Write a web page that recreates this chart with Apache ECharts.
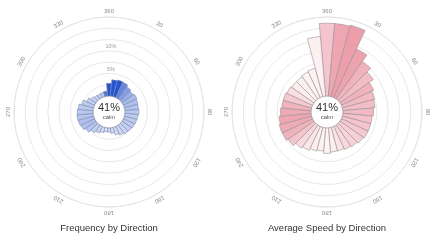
<!DOCTYPE html>
<html>
<head>
<meta charset="utf-8">
<style>
html, body { margin: 0; padding: 0; background: #fff; }
#main { width: 432px; height: 241px; }
</style>
</head>
<body>
<div id="main"></div>
<script src="https://cdn.jsdelivr.net/npm/echarts@6/dist/echarts.min.js"></script>
<script>
// wind directions, every 10 degrees
var directions = ['0', '10', '20', '30', '40', '50', '60', '70', '80', '90', '100', '110',
    '120', '130', '140', '150', '160', '170', '180', '190', '200', '210', '220', '230',
    '240', '250', '260', '270', '280', '290', '300', '310', '320', '330', '340', '350'];

// frequency by direction (%)
var frequency = [2.8, 3.6, 3.8, 3.7, 3.3, 3.0, 3.3, 3.1, 3.0, 3.1, 2.9, 2.8,
    2.7, 2.5, 2.4, 2.1, 1.7, 1.2, 0.9, 0.9, 1.2, 1.6, 2.1, 2.8,
    3.3, 3.5, 3.6, 3.5, 3.3, 2.7, 1.9, 1.3, 1.0, 0.9, 1.0, 1.1];

// average speed by direction
var speed = [12.9, 12.9, 13.1, 9.5, 8.1, 7.2, 6.3, 5.9, 5.7, 5.4, 5.2, 5.2,
    5.2, 5.0, 4.7, 4.5, 4.3, 4.3, 4.5, 4.1, 4.3, 4.7, 5.0, 5.6,
    5.9, 5.9, 5.7, 5.4, 5.2, 5.2, 5.0, 4.8, 4.8, 5.0, 5.2, 10.6];

// compass labels round the outside
var dirTicks = ['0', '30', '60', '90', '120', '150', '180', '210', '240', '270', '300', '330'];
var dirTickLabels = ['360', '30', '60', '90', '120', '150', '180', '210', '240', '270', '300', '330'];

// ring labels on the frequency chart
var freqRings = [5, 10];
var freqRingLabels = ['5%', '10%'];

var calmText = '41%';

var blueScale = ['#e2e9fa', '#9fb5ea', '#2352d0'];
var pinkScale = ['#fdf3f4', '#f6cfd5', '#ec9fab'];

function scaleColor(v, arr, colors, gamma) {
    var mn = Math.min.apply(null, arr);
    var mx = Math.max.apply(null, arr);
    return echarts.color.lerp(Math.pow((v - mn) / (mx - mn), gamma), colors);
}

function angleAxisOf(idx) {
    return {
        polarIndex: idx,
        type: 'category',
        data: directions,
        startAngle: 95,
        clockwise: true,
        axisLine: { lineStyle: { color: '#e4e4e4', width: 1 } },
        axisTick: { show: false },
        axisLabel: { show: false },
        splitLine: { show: false }
    };
}

function radiusAxisOf(idx, max, interval) {
    return {
        polarIndex: idx,
        type: 'value',
        min: 0,
        max: max,
        interval: interval,
        axisLine: { show: false },
        axisTick: { show: false },
        axisLabel: { show: false },
        splitLine: { lineStyle: { color: '#e8e8e8', width: 1 } }
    };
}

// compass labels, turned along the circle
function dirLabelSeries(idx, rMax) {
    return {
        type: 'custom',
        coordinateSystem: 'polar',
        polarIndex: idx,
        silent: true,
        z: 5,
        data: dirTicks.map(function (d) {
            return [rMax, directions.indexOf(d)];
        }),
        renderItem: function (params, api) {
            var cs = params.coordSys;
            var p = api.coord([api.value(0), api.value(1)]);
            var dx = p[0] - cs.cx, dy = p[1] - cs.cy;
            var len = Math.sqrt(dx * dx + dy * dy);
            var k = (len + 6) / len;
            var ang = Number(dirTicks[params.dataIndex]) * Math.PI / 180;
            return {
                type: 'text',
                x: cs.cx + dx * k,
                y: cs.cy + dy * k,
                rotation: -ang,
                style: {
                    text: dirTickLabels[params.dataIndex],
                    fill: '#8a8a8a',
                    font: '6px "Liberation Sans", Arial, sans-serif',
                    align: 'center',
                    verticalAlign: 'middle'
                }
            };
        }
    };
}

var option = {
    animation: false,
    title: [{
        text: 'Frequency by Direction',
        left: 109, top: 223, textAlign: 'center', padding: 0,
        textStyle: { fontSize: 9.5, fontWeight: 'normal', color: '#333', fontFamily: 'Liberation Sans' }
    }, {
        text: 'Average Speed by Direction',
        left: 327, top: 223, textAlign: 'center', padding: 0,
        textStyle: { fontSize: 9.5, fontWeight: 'normal', color: '#333', fontFamily: 'Liberation Sans' }
    }, {
        text: calmText, subtext: 'calm',
        left: 109, top: 102, textAlign: 'center', padding: 0, itemGap: 1,
        textStyle: { fontSize: 11, fontWeight: 'normal', color: '#333', fontFamily: 'Liberation Sans' },
        subtextStyle: { fontSize: 6, color: '#555', fontFamily: 'Liberation Sans' }
    }, {
        text: calmText, subtext: 'calm',
        left: 327, top: 102, textAlign: 'center', padding: 0, itemGap: 1,
        textStyle: { fontSize: 11, fontWeight: 'normal', color: '#333', fontFamily: 'Liberation Sans' },
        subtextStyle: { fontSize: 6, color: '#555', fontFamily: 'Liberation Sans' }
    }],
    polar: [
        { center: [109, 112], radius: [16, 95] },
        { center: [327, 112], radius: [16, 95] }
    ],
    angleAxis: [angleAxisOf(0), angleAxisOf(1)],
    radiusAxis: [radiusAxisOf(0, 17.5, 2.5), radiusAxisOf(1, 14, 2)],
    series: [{
        type: 'bar',
        coordinateSystem: 'polar',
        polarIndex: 0,
        data: frequency,
        barCategoryGap: '0%',
        z: 3,
        itemStyle: {
            borderColor: '#7f8aa8',
            borderWidth: 0.6,
            color: function (p) {
                return scaleColor(speed[p.dataIndex], speed, blueScale, 0.6);
            }
        }
    }, {
        type: 'bar',
        coordinateSystem: 'polar',
        polarIndex: 1,
        data: speed,
        barCategoryGap: '0%',
        z: 3,
        itemStyle: {
            borderColor: '#9a9193',
            borderWidth: 0.6,
            color: function (p) {
                return scaleColor(frequency[p.dataIndex], frequency, pinkScale, 1.2);
            }
        }
    },
    dirLabelSeries(0, 17.5),
    dirLabelSeries(1, 14),
    {
        // ring labels of the frequency chart
        type: 'custom',
        coordinateSystem: 'polar',
        polarIndex: 0,
        silent: true,
        z: 5,
        data: freqRings.map(function (v) { return [v, 0]; }),
        renderItem: function (params, api) {
            var p = api.coord([api.value(0), api.value(1)]);
            return {
                type: 'text',
                x: p[0] + 2,
                y: p[1] - 1,
                style: {
                    text: freqRingLabels[params.dataIndex],
                    fill: '#999',
                    font: '5.5px "Liberation Sans", Arial, sans-serif',
                    align: 'center',
                    verticalAlign: 'bottom'
                }
            };
        }
    }]
};

var chart = echarts.init(document.getElementById('main'));
chart.setOption(option);
</script>
</body>
</html>
